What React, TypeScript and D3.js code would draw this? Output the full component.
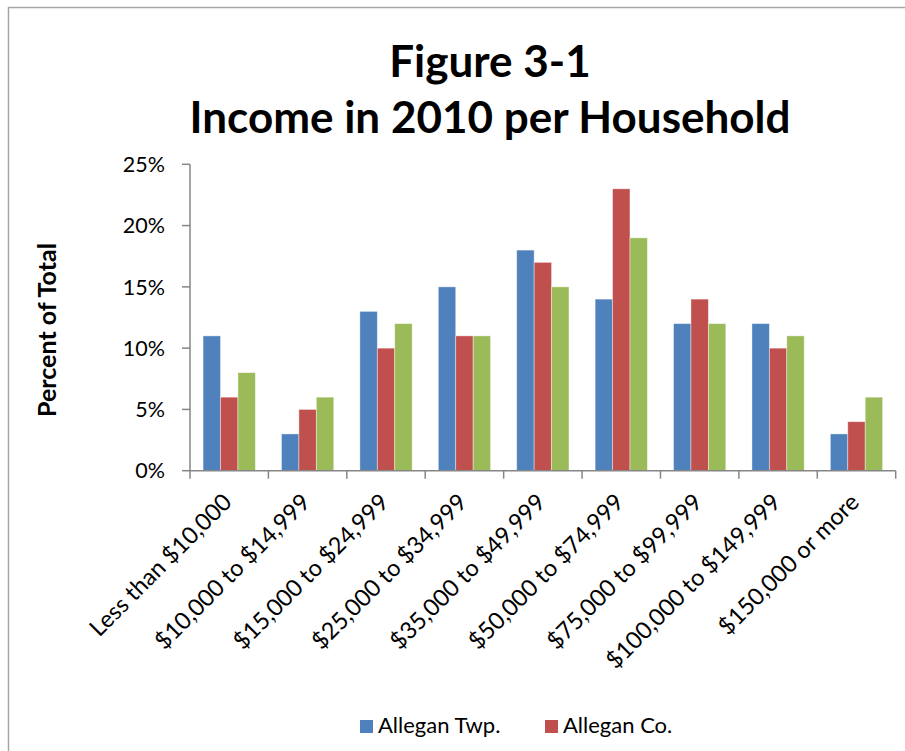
import React from "react";
import * as d3 from "d3";

const categories = [
  "Less than $10,000",
  "$10,000 to $14,999",
  "$15,000 to $24,999",
  "$25,000 to $34,999",
  "$35,000 to $49,999",
  "$50,000 to $74,999",
  "$75,000 to $99,999",
  "$100,000 to $149,999",
  "$150,000 or more",
];
const seriesNames = ["Allegan Twp.", "Allegan Co.", "Michigan"];
const twpValues = [11, 3, 13, 15, 18, 14, 12, 12, 3];
const coValues = [6, 5, 10, 11, 17, 23, 14, 10, 4];
const miValues = [8, 6, 12, 11, 15, 19, 12, 11, 6];
const yTicks = [0, 5, 10, 15, 20, 25];
const colors = ["#4F81BD", "#C0504D", "#9BBB59"];

const W = 905;
const H = 751;
const FONT = "Lato, 'Open Sans', sans-serif";

export default function App() {
  const series = [twpValues, coValues, miValues];
  const left = 190;
  const right = 895.7;
  const y0 = 470.7;
  const yTop = 164.3;
  const x = d3.scaleBand<string>().domain(categories).range([left, right]).paddingInner(0).paddingOuter(0);
  const xs = d3.scaleBand<string>().domain(seriesNames).range([0, x.step()]).paddingInner(0).paddingOuter(0.75);
  const y = d3.scaleLinear().domain([0, 25]).range([y0, yTop]);
  const axisColor = "#868686";
  const boundaries = d3.range(categories.length + 1).map((i) => left + i * x.step());

  return (
    <div style={{ position: "fixed", left: 0, top: 0, width: W, height: H, background: "#fff" }}>
      <svg width={W} height={H} style={{ display: "block" }}>
        <rect x={0} y={0} width={W} height={H} fill="#fff" />
        <rect x={8.5} y={7.5} width={1200} height={1200} fill="none" stroke="#a6a6a6" strokeWidth={1.5} />
        <text x={490} y={77} textAnchor="middle" fontFamily={FONT} fontWeight={700} fontSize={44} fill="#000">
          Figure 3-1
        </text>
        <text x={490} y={133} textAnchor="middle" fontFamily={FONT} fontWeight={700} fontSize={44} fill="#000">
          Income in 2010 per Household
        </text>
        <text
          transform={`translate(56,330) rotate(-90)`}
          textAnchor="middle"
          fontFamily={FONT}
          fontWeight={700}
          fontSize={25}
          fill="#000"
        >
          Percent of Total
        </text>
        {yTicks.map((t) => (
          <g key={t}>
            <line x1={182} x2={left} y1={y(t)} y2={y(t)} stroke={axisColor} strokeWidth={1.5} />
            <text x={165} y={y(t)} dy="0.36em" textAnchor="end" fontFamily={FONT} fontSize={21.5} fill="#000">
              {t}%
            </text>
          </g>
        ))}
        {series.map((vals, si) =>
          categories.map((c, ci) => {
            const bx = (x(c) as number) + (xs(seriesNames[si]) as number);
            const by = y(vals[ci]);
            return (
              <rect
                key={`${si}-${ci}`}
                x={bx}
                y={by}
                width={xs.bandwidth()}
                height={y0 - by}
                fill={colors[si]}
                stroke="#ffffff"
                strokeOpacity={0.5}
                strokeWidth={0.8}
              />
            );
          })
        )}
        <line x1={left} x2={left} y1={yTop} y2={y0} stroke={axisColor} strokeWidth={1.5} />
        <line x1={left} x2={right} y1={y0} y2={y0} stroke={axisColor} strokeWidth={1.5} />
        {boundaries.map((bx, i) => (
          <line key={i} x1={bx} x2={bx} y1={y0} y2={y0 + 8} stroke={axisColor} strokeWidth={1.5} />
        ))}
        {categories.map((c) => {
          const cx = (x(c) as number) + x.bandwidth() / 2;
          return (
            <text
              key={c}
              transform={`translate(${cx + 4},${y0 + 33}) rotate(-45)`}
              textAnchor="end"
              fontFamily={FONT}
              fontSize={23.5}
              fill="#000"
            >
              {c}
            </text>
          );
        })}
        {seriesNames.slice(0, 2).map((n, i) => {
          const lx = [360, 545][i];
          return (
            <g key={n}>
              <rect x={lx} y={720} width={13} height={13} fill={colors[i]} />
              <text x={lx + 18} y={733} fontFamily={FONT} fontSize={22} fill="#000">
                {n}
              </text>
            </g>
          );
        })}
      </svg>
    </div>
  );
}
